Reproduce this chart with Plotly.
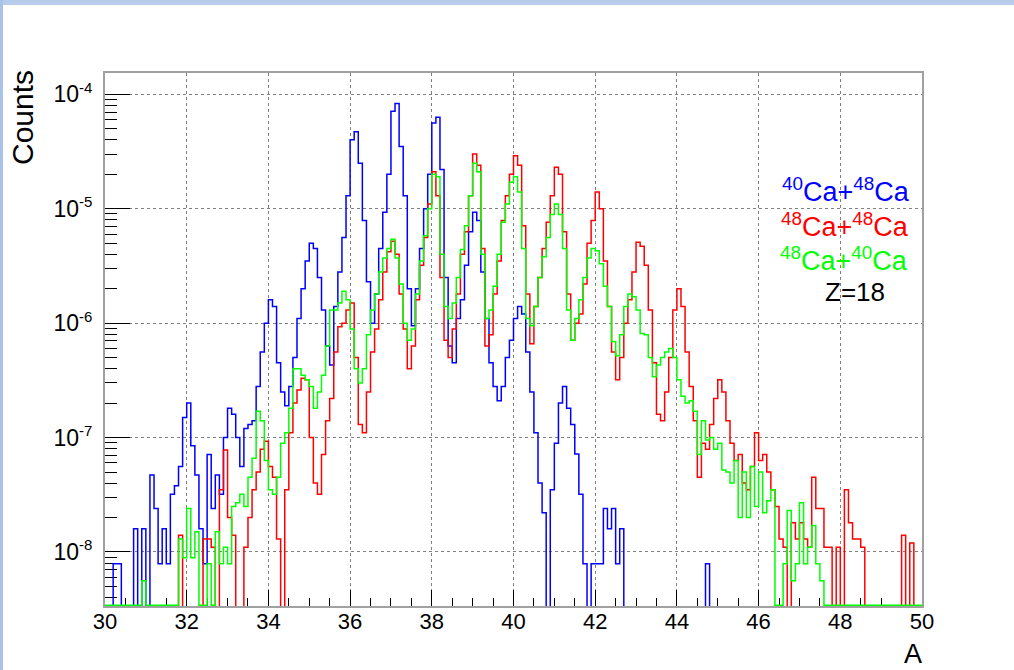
import numpy as np
import plotly.graph_objects as go

# Mass number binning: 30 .. 50, 0.1 wide bins
A_MIN, A_MAX = 30.0, 50.0
N_BINS = 200
edges = np.linspace(A_MIN, A_MAX, N_BINS + 1)

# Counts per bin, one row per unit of A (10 bins each)
ca40_ca48 = [
    0, 0, 7.9e-9, 7.9e-9, 0, 0, 0, 1.6e-8, 0, 1.6e-8,                              # 30
    0, 4.7e-8, 2.4e-8, 7.9e-9, 1.6e-8, 7.9e-9, 3.2e-8, 3.8e-8, 5.6e-8, 1.5e-7,     # 31
    2.0e-7, 8.5e-8, 4.7e-8, 1.6e-8, 7.9e-9, 7.1e-8, 2.4e-8, 4.7e-8, 3.2e-8, 1.0e-7,  # 32
    1.8e-7, 1.6e-7, 1.0e-7, 5.6e-8, 1.2e-7, 1.3e-7, 1.4e-7, 2.8e-7, 5.6e-7, 1.0e-6,  # 33
    1.6e-6, 1.4e-6, 4.5e-7, 2.5e-7, 1.9e-7, 2.8e-7, 5.0e-7, 1.1e-6, 2.0e-6, 3.5e-6,  # 34
    5.0e-6, 4.5e-6, 2.5e-6, 1.3e-6, 6.3e-7, 4.3e-7, 1.4e-6, 2.8e-6, 5.6e-6, 1.3e-5,  # 35
    4.0e-5, 4.7e-5, 2.5e-5, 7.9e-6, 2.3e-6, 1.0e-6, 1.8e-6, 4.5e-6, 9.3e-6, 2.0e-5,  # 36
    7.1e-5, 8.3e-5, 3.5e-5, 1.3e-5, 2.0e-6, 9.5e-7, 2.0e-6, 4.5e-6, 1.0e-5, 2.0e-5,  # 37
    5.6e-5, 6.3e-5, 2.2e-5, 2.5e-6, 6.3e-7, 4.5e-7, 1.1e-6, 1.6e-6, 3.2e-6, 6.3e-6,  # 38
    9.3e-6, 7.9e-6, 2.8e-6, 1.1e-6, 4.5e-7, 2.8e-7, 2.1e-7, 2.8e-7, 5.0e-7, 7.1e-7,  # 39
    1.1e-6, 1.4e-6, 1.2e-6, 5.6e-7, 2.5e-7, 1.1e-7, 4.0e-8, 2.2e-8, 0, 3.5e-8,      # 40
    8.9e-8, 2.0e-7, 2.8e-7, 1.8e-7, 1.3e-7, 7.2e-8, 3.2e-8, 7.9e-9, 0, 7.9e-9,      # 41
    7.9e-9, 7.9e-9, 2.4e-8, 1.6e-8, 2.4e-8, 7.9e-9, 1.6e-8, 0, 0, 0,               # 42
    0, 0, 0, 0, 0, 0, 0, 0, 0, 0,                                                  # 43
    0, 0, 0, 0, 0, 0, 0, 7.9e-9, 0, 0,                                             # 44
    0, 0, 0, 0, 0, 0, 0, 0, 0, 0,                                                  # 45
    0, 0, 0, 0, 0, 0, 0, 0, 0, 0,                                                  # 46
    0, 0, 0, 0, 0, 0, 0, 0, 0, 0,                                                  # 47
    0, 0, 0, 0, 0, 0, 0, 0, 0, 0,                                                  # 48
    0, 0, 0, 0, 0, 0, 0, 0, 0, 0,                                                  # 49
]

ca48_ca48 = [
    0, 0, 0, 0, 0, 0, 0, 0, 0, 0,                                                  # 30
    0, 0, 0, 0, 0, 0, 0, 0, 1.4e-8, 0,                                             # 31
    0, 0, 0, 0, 1.3e-8, 1.3e-8, 1.1e-8, 0, 3.5e-8, 7.8e-8,                         # 32
    2.0e-8, 1.4e-8, 0, 0, 1.1e-8, 2.0e-8, 3.5e-8, 5.0e-8, 7.9e-8, 9.3e-8,          # 33
    5.6e-8, 4.5e-8, 1.3e-8, 0, 3.5e-8, 1.1e-7, 2.0e-7, 2.6e-7, 3.3e-7, 3.2e-7,     # 34
    1.0e-7, 4.0e-8, 3.2e-8, 7.1e-8, 1.4e-7, 2.2e-7, 5.6e-7, 9.3e-7, 1.0e-6, 1.3e-6,  # 35
    1.5e-6, 5.0e-7, 1.3e-7, 1.1e-7, 2.5e-7, 5.6e-7, 8.9e-7, 1.6e-6, 2.8e-6, 4.2e-6,  # 36
    5.2e-6, 4.0e-6, 1.8e-6, 8.9e-7, 4.0e-7, 6.3e-7, 1.6e-6, 3.2e-6, 5.6e-6, 1.1e-5,  # 37
    2.1e-5, 1.3e-5, 2.5e-6, 7.1e-7, 5.0e-7, 8.9e-7, 1.8e-6, 4.0e-6, 6.3e-6, 1.3e-5,  # 38
    3.0e-5, 2.4e-5, 4.5e-6, 6.3e-7, 7.9e-7, 1.8e-6, 3.5e-6, 7.9e-6, 1.3e-5, 2.0e-5,  # 39
    2.9e-5, 2.4e-5, 7.1e-6, 1.8e-6, 6.6e-7, 1.4e-6, 2.5e-6, 4.5e-6, 7.6e-6, 1.3e-5,  # 40
    2.3e-5, 2.0e-5, 6.3e-6, 1.8e-6, 7.1e-7, 1.0e-6, 1.2e-6, 2.2e-6, 5.0e-6, 7.9e-6,  # 41
    1.4e-5, 1.0e-5, 3.5e-6, 1.4e-6, 5.6e-7, 3.2e-7, 5.0e-7, 1.0e-6, 1.6e-6, 2.8e-6,  # 42
    5.1e-6, 4.7e-6, 3.2e-6, 1.3e-6, 4.5e-7, 1.6e-7, 1.4e-7, 2.5e-7, 5.0e-7, 1.3e-6,  # 43
    2.0e-6, 1.4e-6, 5.6e-7, 2.8e-7, 1.4e-7, 4.5e-8, 8.9e-8, 7.9e-8, 1.3e-7, 2.2e-7,  # 44
    3.2e-7, 2.5e-7, 1.4e-7, 8.9e-8, 6.3e-8, 7.1e-8, 4.0e-8, 3.5e-8, 5.6e-8, 1.1e-7,  # 45
    6.3e-8, 7.1e-8, 5.0e-8, 3.5e-8, 2.5e-8, 1.3e-8, 1.1e-8, 0, 1.8e-8, 1.3e-8,     # 46
    1.8e-8, 1.3e-8, 1.1e-8, 4.5e-8, 2.4e-8, 2.4e-8, 1.1e-8, 1.1e-8, 0, 1.1e-8,     # 47
    0, 3.5e-8, 1.8e-8, 1.3e-8, 1.3e-8, 1.1e-8, 0, 0, 0, 0,                         # 48
    0, 0, 0, 0, 0, 1.4e-8, 0, 1.2e-8, 0, 0,                                        # 49
]

ca48_ca40 = [
    0, 0, 0, 0, 0, 0, 0, 0, 0, 5.6e-9,                                             # 30
    0, 0, 0, 0, 0, 0, 0, 0, 1.3e-8, 8.9e-9,                                        # 31
    2.4e-8, 8.9e-9, 1.5e-8, 0, 0, 7.9e-9, 0, 1.5e-8, 7.9e-9, 1.1e-8,               # 32
    7.9e-9, 2.5e-8, 2.7e-8, 3.2e-8, 2.5e-8, 4.5e-8, 6.6e-8, 1.7e-7, 1.4e-7, 6.3e-8,  # 33
    3.5e-8, 3.2e-8, 4.5e-8, 8.9e-8, 1.1e-7, 1.8e-7, 4.0e-7, 4.0e-7, 3.5e-7, 3.2e-7,  # 34
    2.8e-7, 1.8e-7, 2.5e-7, 3.5e-7, 6.3e-7, 1.3e-6, 1.3e-6, 1.5e-6, 1.9e-6, 1.6e-6,  # 35
    8.9e-7, 4.0e-7, 3.0e-7, 4.0e-7, 7.9e-7, 1.3e-6, 1.8e-6, 2.8e-6, 3.7e-6, 4.5e-6,  # 36
    5.4e-6, 3.7e-6, 2.2e-6, 1.0e-6, 7.1e-7, 8.9e-7, 1.8e-6, 3.5e-6, 5.8e-6, 1.0e-5,  # 37
    2.0e-5, 1.9e-5, 4.0e-6, 1.4e-6, 1.1e-6, 1.5e-6, 2.5e-6, 4.4e-6, 7.1e-6, 1.3e-5,  # 38
    2.5e-5, 2.1e-5, 4.0e-6, 1.1e-6, 1.3e-6, 2.1e-6, 4.0e-6, 7.6e-6, 1.1e-5, 1.7e-5,  # 39
    1.9e-5, 1.4e-5, 4.5e-6, 1.1e-6, 9.5e-7, 1.4e-6, 2.5e-6, 3.8e-6, 5.6e-6, 8.9e-6,  # 40
    1.1e-5, 8.9e-6, 4.5e-6, 1.3e-6, 7.1e-7, 1.1e-6, 1.6e-6, 2.5e-6, 3.7e-6, 4.5e-6,  # 41
    4.3e-6, 3.3e-6, 2.1e-6, 1.4e-6, 6.9e-7, 5.2e-7, 7.9e-7, 1.4e-6, 1.8e-6, 1.7e-6,  # 42
    1.3e-6, 8.1e-7, 7.9e-7, 5.0e-7, 3.4e-7, 4.3e-7, 5.0e-7, 5.6e-7, 6.0e-7, 5.0e-7,  # 43
    3.2e-7, 2.3e-7, 2.0e-7, 2.1e-7, 1.7e-7, 7.1e-8, 1.4e-7, 9.5e-8, 1.0e-7, 7.9e-8,  # 44
    8.9e-8, 5.2e-8, 5.0e-8, 4.0e-8, 6.3e-8, 2.0e-8, 5.0e-8, 2.0e-8, 5.6e-8, 2.5e-8,  # 45
    5.0e-8, 2.2e-8, 2.8e-8, 3.5e-8, 0, 0, 7.9e-9, 2.3e-8, 5.6e-9, 7.9e-9,          # 46
    2.7e-8, 7.9e-9, 1.1e-8, 1.7e-8, 7.9e-9, 5.6e-9, 0, 0, 0, 0,                    # 47
    0, 0, 0, 0, 0, 0, 0, 0, 0, 0,                                                  # 48
    0, 0, 0, 0, 0, 0, 0, 0, 0, 0,                                                  # 49
]

LOG_LOW, LOG_HIGH = -8.472, -3.814

# (values, colour, level used for empty bins: the last histogram runs along
#  the lower frame edge, the others drop just below it)
series = [
    (ca40_ca48, "#0000ff", 10.0 ** (LOG_LOW - 0.03)),
    (ca48_ca48, "#ff0000", 10.0 ** (LOG_LOW - 0.03)),
    (ca48_ca40, "#00ff00", 10.0 ** (LOG_LOW + 0.006)),
]

x_ticks = [30, 32, 34, 36, 38, 40, 42, 44, 46, 48, 50]
x_minor = [a / 2 for a in range(60, 101) if a % 4 != 0]
y_exponents = [-8, -7, -6, -5, -4]
y_ticks = [10.0 ** e for e in y_exponents]
y_labels = ["10<sup><span style='font-size:15px'>%d</span></sup>" % e for e in y_exponents]
y_minor = [k * 10.0 ** e for e in range(-9, -3) for k in range(2, 10)]


def step_xy(values, floor):
    v = np.asarray(values, dtype=float)
    v = np.where(v > 0, v, floor)
    return edges, np.append(v, v[-1])


fig = go.Figure()
for values, color, floor in series:
    xs, ys = step_xy(values, floor)
    fig.add_trace(go.Scatter(
        x=xs, y=ys, mode="lines", line=dict(color=color, width=1.5, shape="hv"),
        hoverinfo="skip", showlegend=False,
    ))

# plot area in pixels
L, R, T, B = 105, 922, 73, 606
W, H = 1014, 670


def px(x):
    return (x - L) / (R - L)


def py(y):
    return (B - y) / (B - T)


FONT = "Liberation Sans, Arial, Helvetica, sans-serif"

fig.update_layout(
    width=W, height=H,
    margin=dict(l=L, r=W - R, t=T, b=H - B, pad=0),
    paper_bgcolor="white", plot_bgcolor="white",
    font=dict(family=FONT, color="black", size=22),
    showlegend=False,
    xaxis=dict(
        range=[A_MIN, A_MAX], tickmode="array", tickvals=x_ticks,
        ticks="inside", ticklen=16, tickwidth=1, tickcolor="black",
        showline=True, mirror=True, linecolor="#a0a0a0", linewidth=2,
        showgrid=True, gridcolor="#808080", griddash="dot", gridwidth=1,
        zeroline=False, tickfont=dict(size=22), layer="below traces",
        ticklabelstandoff=-5,
        minor=dict(tickmode="array", tickvals=x_minor, ticks="inside", ticklen=8,
                   tickcolor="black", showgrid=False),
    ),
    yaxis=dict(
        type="log", range=[LOG_LOW, LOG_HIGH], tickmode="array",
        tickvals=y_ticks, ticktext=y_labels,
        ticks="inside", ticklen=25, tickwidth=1, tickcolor="black",
        showline=True, mirror=True, linecolor="#a0a0a0", linewidth=2,
        showgrid=True, gridcolor="#808080", griddash="dot", gridwidth=1,
        zeroline=False, tickfont=dict(size=23), ticklabelstandoff=6,
        layer="below traces",
        minor=dict(tickmode="array", tickvals=y_minor, ticks="inside", ticklen=12,
                   tickcolor="black", showgrid=False),
    ),
)

# canvas border bands
fig.add_shape(type="rect", xref="paper", yref="paper",
              x0=px(0), x1=px(W), y0=py(5), y1=py(0),
              fillcolor="#b7cbea", line=dict(width=0), layer="below")
fig.add_shape(type="rect", xref="paper", yref="paper",
              x0=px(0), x1=px(3), y0=py(H), y1=py(0),
              fillcolor="#a9c2ea", line=dict(width=0), layer="below")

annotations = [
    dict(text="Counts", x=px(22), y=py(118), textangle=-90, font=dict(size=30)),
    dict(text="A", x=px(913), y=py(654), font=dict(size=27)),
    dict(text="<sup>40</sup>Ca+<sup>48</sup>Ca", x=px(846), y=py(190),
         font=dict(size=27, color="#0000ff")),
    dict(text="<sup>48</sup>Ca+<sup>48</sup>Ca", x=px(845), y=py(225),
         font=dict(size=27, color="#ff0000")),
    dict(text="<sup>48</sup>Ca+<sup>40</sup>Ca", x=px(844), y=py(259),
         font=dict(size=27, color="#00ff00")),
    dict(text="Z=18", x=px(855), y=py(292), font=dict(size=26, color="black")),
]
for a in annotations:
    fig.add_annotation(xref="paper", yref="paper", showarrow=False,
                       xanchor="center", yanchor="middle", **a)

fig.write_html("out.html")
